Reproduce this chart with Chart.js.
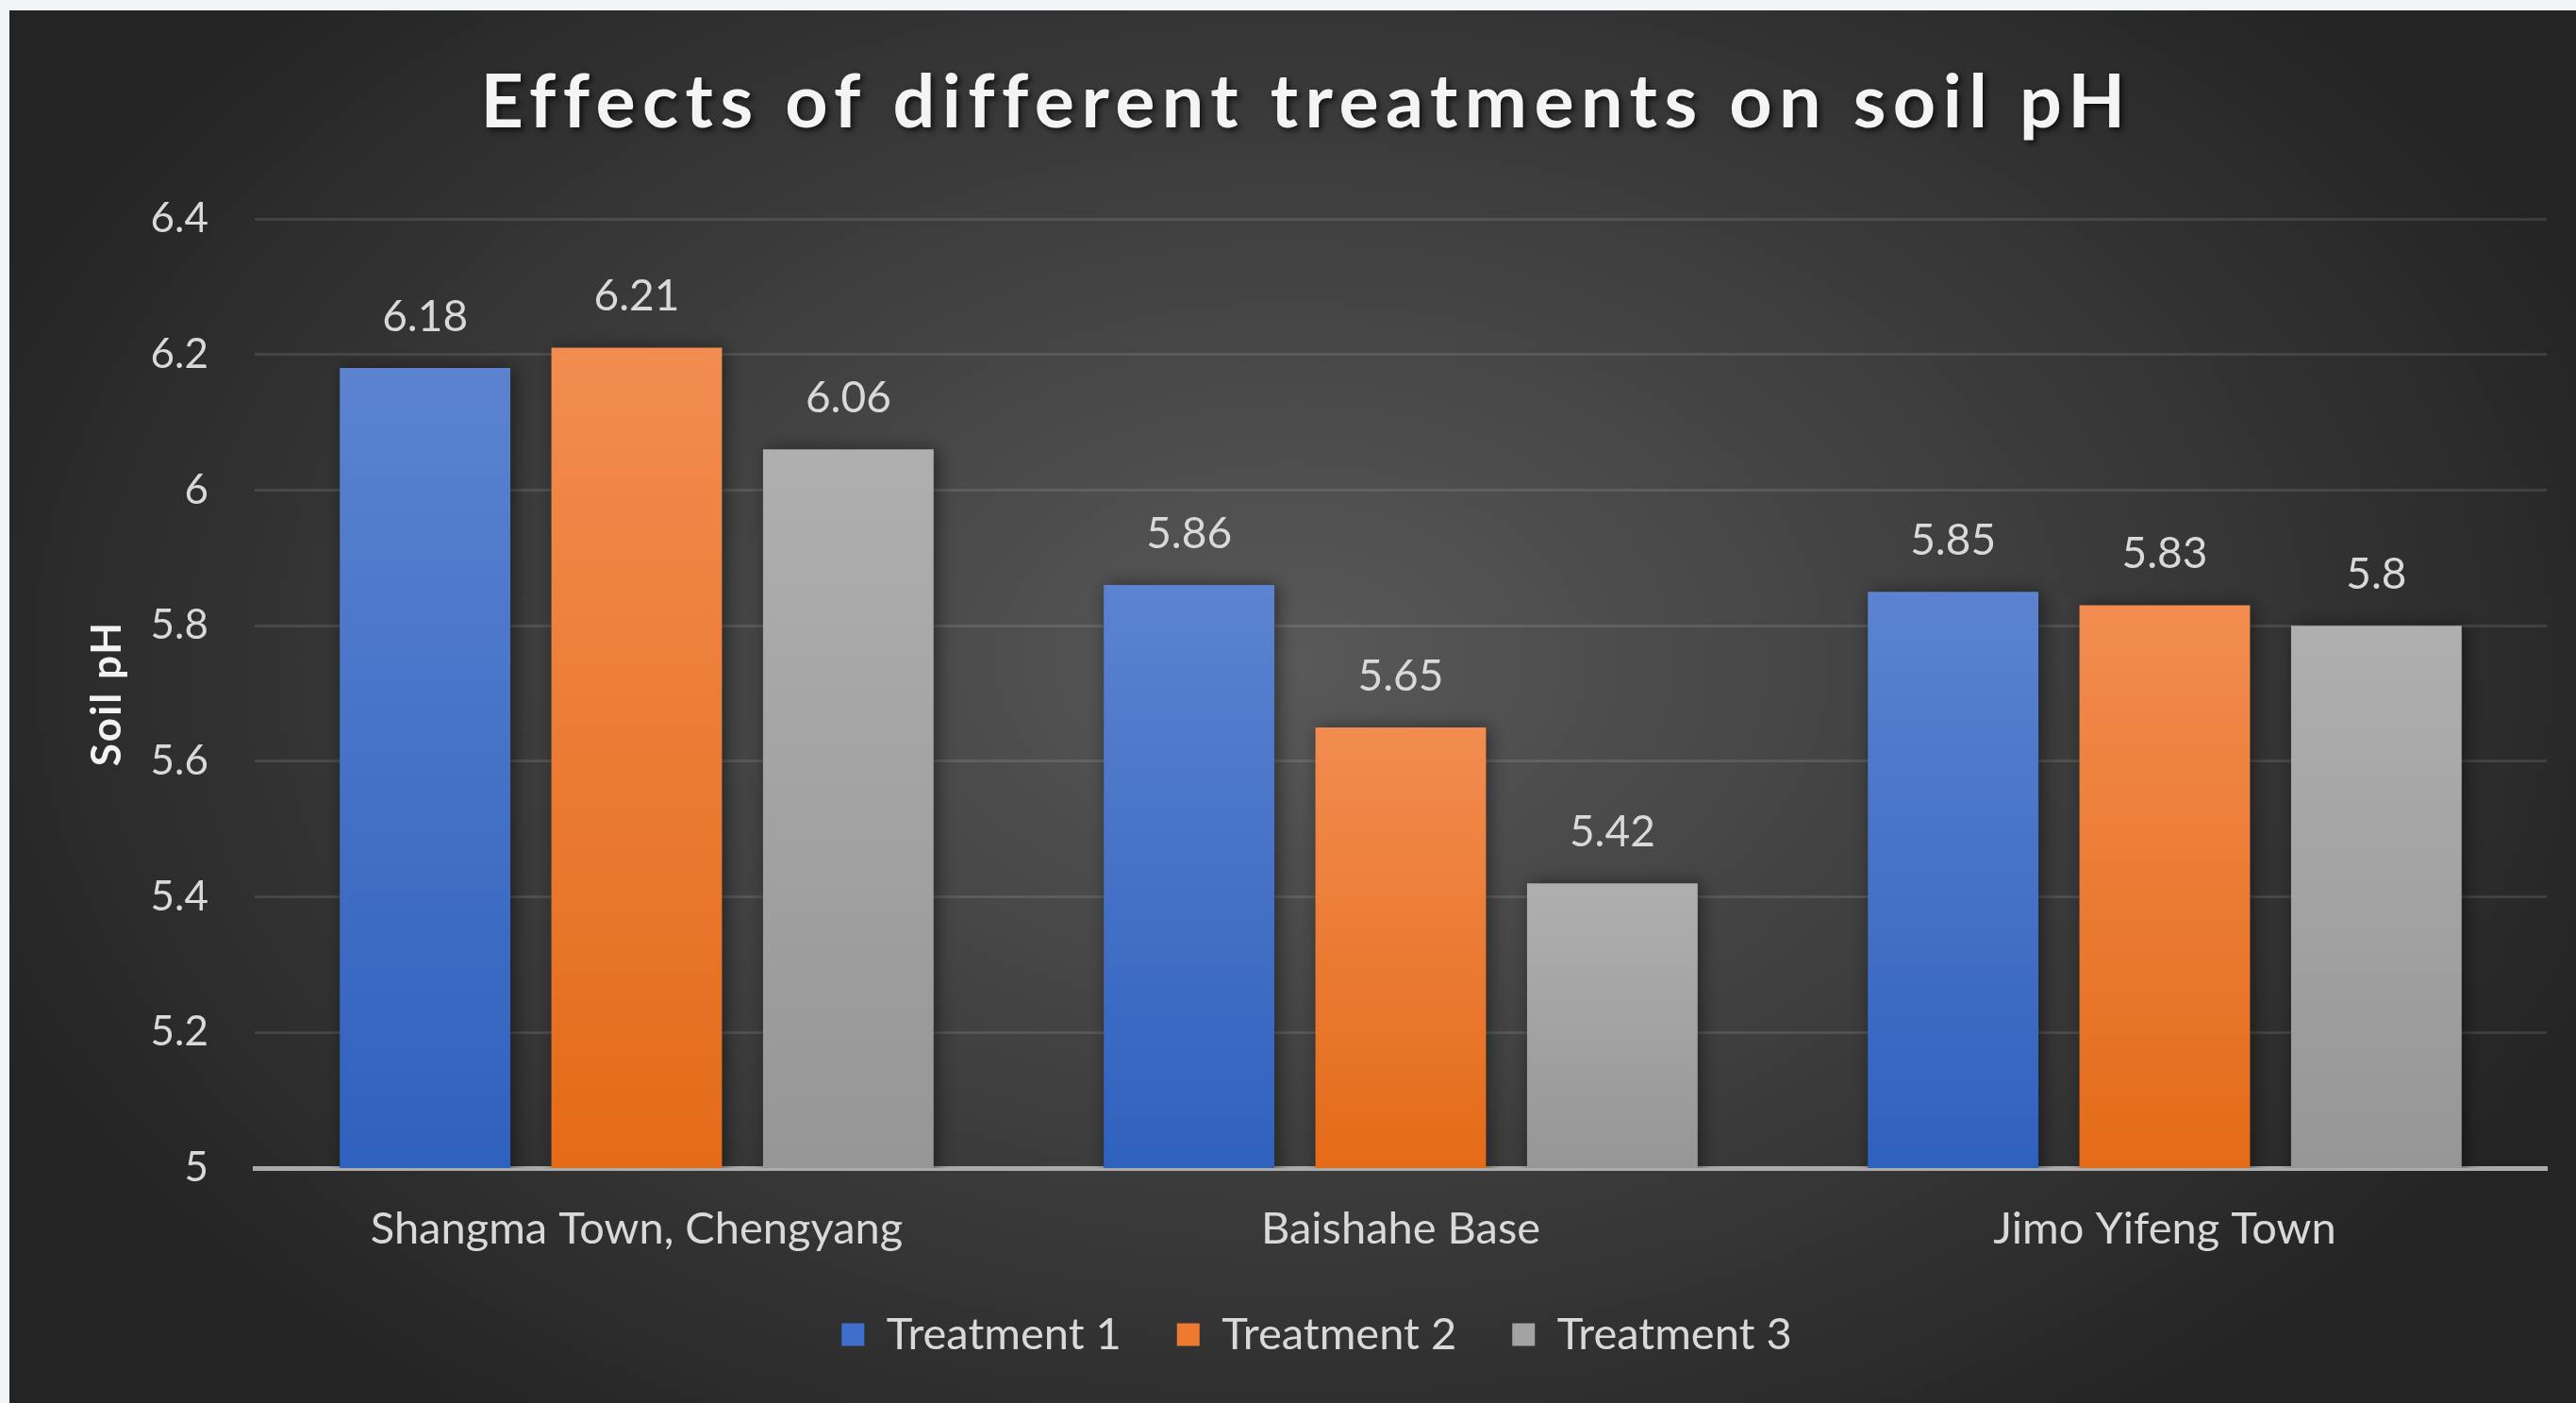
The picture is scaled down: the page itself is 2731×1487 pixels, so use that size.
<!DOCTYPE html>
<html>
<head>
<meta charset="utf-8">
<title>Effects of different treatments on soil pH</title>
<script src="https://cdn.jsdelivr.net/npm/chart.js@4.4.1/dist/chart.umd.min.js"></script>
<style>
  html, body { margin: 0; padding: 0; background: #f3f4f6; }
  #wrap { width: 2731px; height: 1487px; }
</style>
</head>
<body>
<div id="wrap"><canvas id="soil_chart" width="2731" height="1487"></canvas></div>
<script>
var chartTitle = 'Effects of different treatments on soil pH';
var sites = ['Shangma Town, Chengyang', 'Baishahe Base', 'Jimo Yifeng Town'];
var treatmentNames = ['Treatment 1', 'Treatment 2', 'Treatment 3'];
var treatment1 = [6.18, 5.86, 5.85];
var treatment2 = [6.21, 5.65, 5.83];
var treatment3 = [6.06, 5.42, 5.8];
var yTicks = [5, 5.2, 5.4, 5.6, 5.8, 6, 6.2, 6.4];

var coloursTop = ['#5b83d0', '#f28c50', '#afafaf'];
var coloursBottom = ['#2f61be', '#e46b18', '#969696'];
var coloursLegend = ['#3f6fcc', '#ee7a30', '#a3a3a3'];
var textColour = '#d9d9d9';
var fontName = 'Lato, "Open Sans", sans-serif';

// linear scale whose title is drawn a bit letter-spaced (excel look)
class SpacedLinearScale extends Chart.LinearScale {
  drawTitle() {
    var ctx = this.ctx;
    ctx.save();
    if ('letterSpacing' in ctx) ctx.letterSpacing = '2px';
    super.drawTitle();
    ctx.restore();
  }
}
SpacedLinearScale.id = 'spacedLinear';
SpacedLinearScale.defaults = Chart.LinearScale.defaults;
Chart.register(SpacedLinearScale);

// per-bar vertical gradient, lighter at the top like the excel fill
function barFill(i) {
  return function (c) {
    var chart = c.chart;
    var area = chart.chartArea;
    if (!area || c.type !== 'data') return coloursBottom[i];
    var y = chart.scales.y.getPixelForValue(c.raw);
    var g = chart.ctx.createLinearGradient(0, y, 0, area.bottom);
    g.addColorStop(0, coloursTop[i]);
    g.addColorStop(1, coloursBottom[i]);
    return g;
  };
}

var backgroundPlugin = {
  id: 'panel',
  afterLayout: function (chart) {
    // legend sits a little right of centre in the original
    chart.legend.left += 41;
    chart.legend.right += 41;
  },
  beforeDraw: function (chart) {
    var ctx = chart.ctx;
    var w = chart.width, h = chart.height;
    ctx.save();
    ctx.fillStyle = '#f3f4f6';
    ctx.fillRect(0, 0, w, h);
    var cx = 1370, cy = 700, rx = 1500, ry = 1000;
    var k = ry / rx;
    ctx.translate(cx, cy);
    ctx.scale(1, k);
    var g = ctx.createRadialGradient(0, 0, 0, 0, 0, rx);
    g.addColorStop(0, '#595959');
    g.addColorStop(1, '#242424');
    ctx.fillStyle = g;
    ctx.fillRect(10 - cx, (11 - cy) / k, w - 10, (h - 11) / k);
    ctx.restore();
  }
};

var titlePlugin = {
  id: 'bigTitle',
  beforeDatasetsDraw: function (chart) {
    var ctx = chart.ctx;
    ctx.save();
    ctx.font = 'bold 79px ' + fontName;
    ctx.textAlign = 'center';
    ctx.textBaseline = 'middle';
    var plain = ctx.measureText(chartTitle).width;
    if ('letterSpacing' in ctx) {
      ctx.letterSpacing = Math.max(0, (1738 - plain) / (chartTitle.length - 1)) + 'px';
    }
    ctx.shadowColor = 'rgba(0,0,0,0.7)';
    ctx.shadowBlur = 6;
    ctx.shadowOffsetX = 3;
    ctx.shadowOffsetY = 3;
    ctx.fillStyle = '#f4f4f4';
    ctx.fillText(chartTitle, 1385, 110);
    ctx.restore();
  }
};

var valueLabels = {
  id: 'valueLabels',
  beforeDatasetsDraw: function (chart) {
    var ctx = chart.ctx;
    ctx.save();
    ctx.shadowColor = 'rgba(0,0,0,0.45)';
    ctx.shadowBlur = 18;
    ctx.shadowOffsetX = 4;
    ctx.shadowOffsetY = 0;
  },
  afterDatasetsDraw: function (chart) {
    var ctx = chart.ctx;
    ctx.restore();
    ctx.save();
    ctx.font = '46px ' + fontName;
    ctx.fillStyle = textColour;
    ctx.textAlign = 'center';
    ctx.textBaseline = 'middle';
    chart.data.datasets.forEach(function (ds, d) {
      var meta = chart.getDatasetMeta(d);
      meta.data.forEach(function (bar, i) {
        ctx.fillText(String(ds.data[i]), bar.x, bar.y - 54);
      });
    });
    ctx.restore();
  }
};

var soilChart = new Chart(document.getElementById('soil_chart'), {
  type: 'bar',
  data: {
    labels: sites,
    datasets: [
      { label: treatmentNames[0], data: treatment1, backgroundColor: barFill(0) },
      { label: treatmentNames[1], data: treatment2, backgroundColor: barFill(1) },
      { label: treatmentNames[2], data: treatment3, backgroundColor: barFill(2) }
    ]
  },
  options: {
    responsive: false,
    animation: false,
    devicePixelRatio: 1,
    categoryPercentage: 0.831,
    barPercentage: 0.806,
    layout: { padding: { left: 10, right: 31, top: 232, bottom: 39 } },
    plugins: {
      title: { display: false },
      tooltip: { enabled: false },
      legend: {
        position: 'bottom',
        labels: {
          color: textColour,
          font: { family: fontName, size: 47 },
          boxWidth: 24,
          boxHeight: 24,
          padding: 59,
          generateLabels: function (chart) {
            var items = Chart.defaults.plugins.legend.labels.generateLabels(chart);
            items.forEach(function (item, i) {
              item.fillStyle = coloursLegend[i];
              item.strokeStyle = 'rgba(0,0,0,0)';
              item.lineWidth = 0;
            });
            return items;
          }
        }
      }
    },
    scales: {
      x: {
        grid: { display: false },
        border: { display: true, color: '#ababab', width: 5 },
        afterFit: function (axis) { axis.height = 94; },
        ticks: {
          color: textColour,
          font: { family: fontName, size: 47 },
          padding: 29
        }
      },
      y: {
        type: 'spacedLinear',
        min: 5,
        max: 6.4,
        afterBuildTicks: function (axis) {
          axis.ticks = yTicks.map(function (v) { return { value: v }; });
        },
        afterFit: function (axis) { axis.width = 260; },
        grid: { color: 'rgba(255,255,255,0.11)', lineWidth: 3, drawTicks: false },
        border: { display: false },
        ticks: {
          color: textColour,
          font: { family: fontName, size: 44 },
          padding: 49,
          callback: function (v) { return String(v); }
        },
        title: {
          display: true,
          text: 'Soil pH',
          color: '#f2f2f2',
          font: { family: fontName, size: 44, weight: 'bold' },
          padding: { top: 77, bottom: 0 }
        }
      }
    }
  },
  plugins: [backgroundPlugin, titlePlugin, valueLabels]
});
</script>
</body>
</html>
